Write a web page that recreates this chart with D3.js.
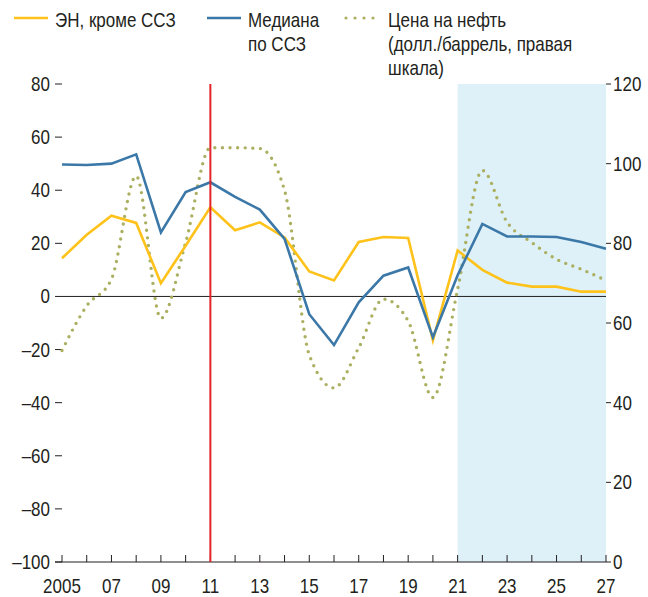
<!DOCTYPE html>
<html>
<head>
<meta charset="utf-8">
<script src="https://cdn.jsdelivr.net/npm/d3@7"></script>
<style>
  body { margin: 0; background: #fff; }
  svg text { font-family: "Liberation Sans", Arial, sans-serif; fill: #231f20; }
</style>
</head>
<body>
<svg id="chart" width="648" height="597"></svg>
<script>
const years = d3.range(2005, 2028);
const tickYears = d3.range(2005, 2028, 2);

// ЭН, кроме ССЗ (left scale)
const emExFuel = [14.4, 23.2, 30.4, 27.7, 5.0, 19.1, 33.6, 24.9, 27.9, 22.2, 9.4, 6.0,
  20.5, 22.4, 22.0, -16.5, 17.3, 10.0, 5.2, 3.7, 3.7, 1.8, 1.8];
// Медиана по ССЗ (left scale)
const fuelMedian = [49.7, 49.5, 50.0, 53.5, 24.1, 39.3, 43.0, 37.5, 32.7, 21.7, -6.7, -18.3,
  -2.2, 7.8, 10.9, -15.4, 8.0, 27.3, 22.6, 22.6, 22.4, 20.5, 18.0];
// Цена на нефть, долл./баррель (right scale)
const oilPrice = [53.1, 64.3, 71.0, 96.9, 61.2, 80.2, 104.0, 104.0, 103.8, 93.3, 52.0, 43.7,
  53.8, 66.0, 60.5, 41.3, 68.5, 98.3, 85.3, 80.2, 76.0, 73.5, 70.7];

const leftTicks = d3.range(-100, 81, 20);
const rightTicks = d3.range(0, 121, 20);
const markerYear = 2011;
const forecastStart = 2021;

const svg = d3.select("#chart");
const pLeft = 62, pRight = 606, pTop = 84, pBottom = 562;
const ink = "#231f20";

const x = d3.scaleLinear().domain([2005, 2027]).range([pLeft, pRight]);
const yL = d3.scaleLinear().domain([-100, 80]).range([pBottom, pTop]);
const yR = d3.scaleLinear().domain([0, 120]).range([pBottom, pTop]);

// condensed text (narrow sans look)
function label(px, py, s, anchor) {
  return svg.append("text")
    .attr("transform", `translate(${px},${py}) scale(0.85,1)`)
    .attr("text-anchor", anchor || "start")
    .attr("font-size", 20)
    .text(s);
}

// forecast shading
svg.append("rect")
  .attr("x", x(forecastStart)).attr("y", pTop)
  .attr("width", x(2027) - x(forecastStart)).attr("height", pBottom - pTop)
  .attr("fill", "#def0f8");

// zero line
svg.append("line")
  .attr("x1", pLeft).attr("x2", pRight)
  .attr("y1", yL(0)).attr("y2", yL(0))
  .attr("stroke", ink).attr("stroke-width", 1);

// left ticks
leftTicks.forEach(v => {
  svg.append("line")
    .attr("x1", pLeft - 7).attr("x2", pLeft)
    .attr("y1", yL(v)).attr("y2", yL(v))
    .attr("stroke", ink).attr("stroke-width", 1);
  label(pLeft - 12, yL(v) + 7, v < 0 ? "\u2013" + Math.abs(v) : String(v), "end");
});

// right ticks
rightTicks.forEach(v => {
  svg.append("line")
    .attr("x1", pRight).attr("x2", pRight + 5)
    .attr("y1", yR(v)).attr("y2", yR(v))
    .attr("stroke", ink).attr("stroke-width", 1);
  label(pRight + 7, yR(v) + 7, String(v));
});

// bottom axis
svg.append("line")
  .attr("x1", pLeft - 7).attr("x2", pRight)
  .attr("y1", pBottom).attr("y2", pBottom)
  .attr("stroke", ink).attr("stroke-width", 1.2);

years.forEach(yr => {
  svg.append("line")
    .attr("x1", x(yr)).attr("x2", x(yr))
    .attr("y1", pBottom - 7).attr("y2", pBottom)
    .attr("stroke", ink).attr("stroke-width", 1);
});

tickYears.forEach(yr => {
  label(x(yr), pBottom + 31, yr === 2005 ? "2005" : String(yr).slice(2), "middle");
});

// series
const lineL = d3.line().x((d, i) => x(years[i])).y(d => yL(d));
const lineR = d3.line().x((d, i) => x(years[i])).y(d => yR(d)).curve(d3.curveMonotoneX);

svg.append("path")
  .datum(oilPrice)
  .attr("d", lineR)
  .attr("fill", "none")
  .attr("stroke", "#abb061")
  .attr("stroke-width", 3.4)
  .attr("stroke-linecap", "round")
  .attr("stroke-dasharray", "0 7.6");

svg.append("path")
  .datum(emExFuel)
  .attr("d", lineL)
  .attr("fill", "none")
  .attr("stroke", "#fec21a")
  .attr("stroke-width", 2.6);

svg.append("path")
  .datum(fuelMedian)
  .attr("d", lineL)
  .attr("fill", "none")
  .attr("stroke", "#3b78a8")
  .attr("stroke-width", 2.6);

// vertical marker
svg.append("line")
  .attr("x1", x(markerYear)).attr("x2", x(markerYear))
  .attr("y1", pTop).attr("y2", pBottom)
  .attr("stroke", "#e2252b").attr("stroke-width", 2);

// legend
const legend = [
  { lines: ["ЭН, кроме ССЗ"], color: "#fec21a", x0: 14, dotted: false },
  { lines: ["Медиана", "по ССЗ"], color: "#3b78a8", x0: 207, dotted: false },
  { lines: ["Цена на нефть", "(долл./баррель, правая", "шкала)"], color: "#abb061", x0: 345, dotted: true }
];

legend.forEach(item => {
  const l = svg.append("line")
    .attr("y1", 18).attr("y2", 18)
    .attr("stroke", item.color);
  if (item.dotted) {
    l.attr("x1", item.x0 + 1).attr("x2", item.x0 + 37)
      .attr("stroke-width", 3.2).attr("stroke-linecap", "round").attr("stroke-dasharray", "0 9");
  } else {
    l.attr("x1", item.x0).attr("x2", item.x0 + 34).attr("stroke-width", 2.6);
  }
  const t = label(item.dotted ? item.x0 + 43 : item.x0 + 41, 27, "");
  item.lines.forEach((s, i) => {
    t.append("tspan").text(s).attr("x", 0).attr("dy", i === 0 ? 0 : 24);
  });
});
</script>
</body>
</html>
